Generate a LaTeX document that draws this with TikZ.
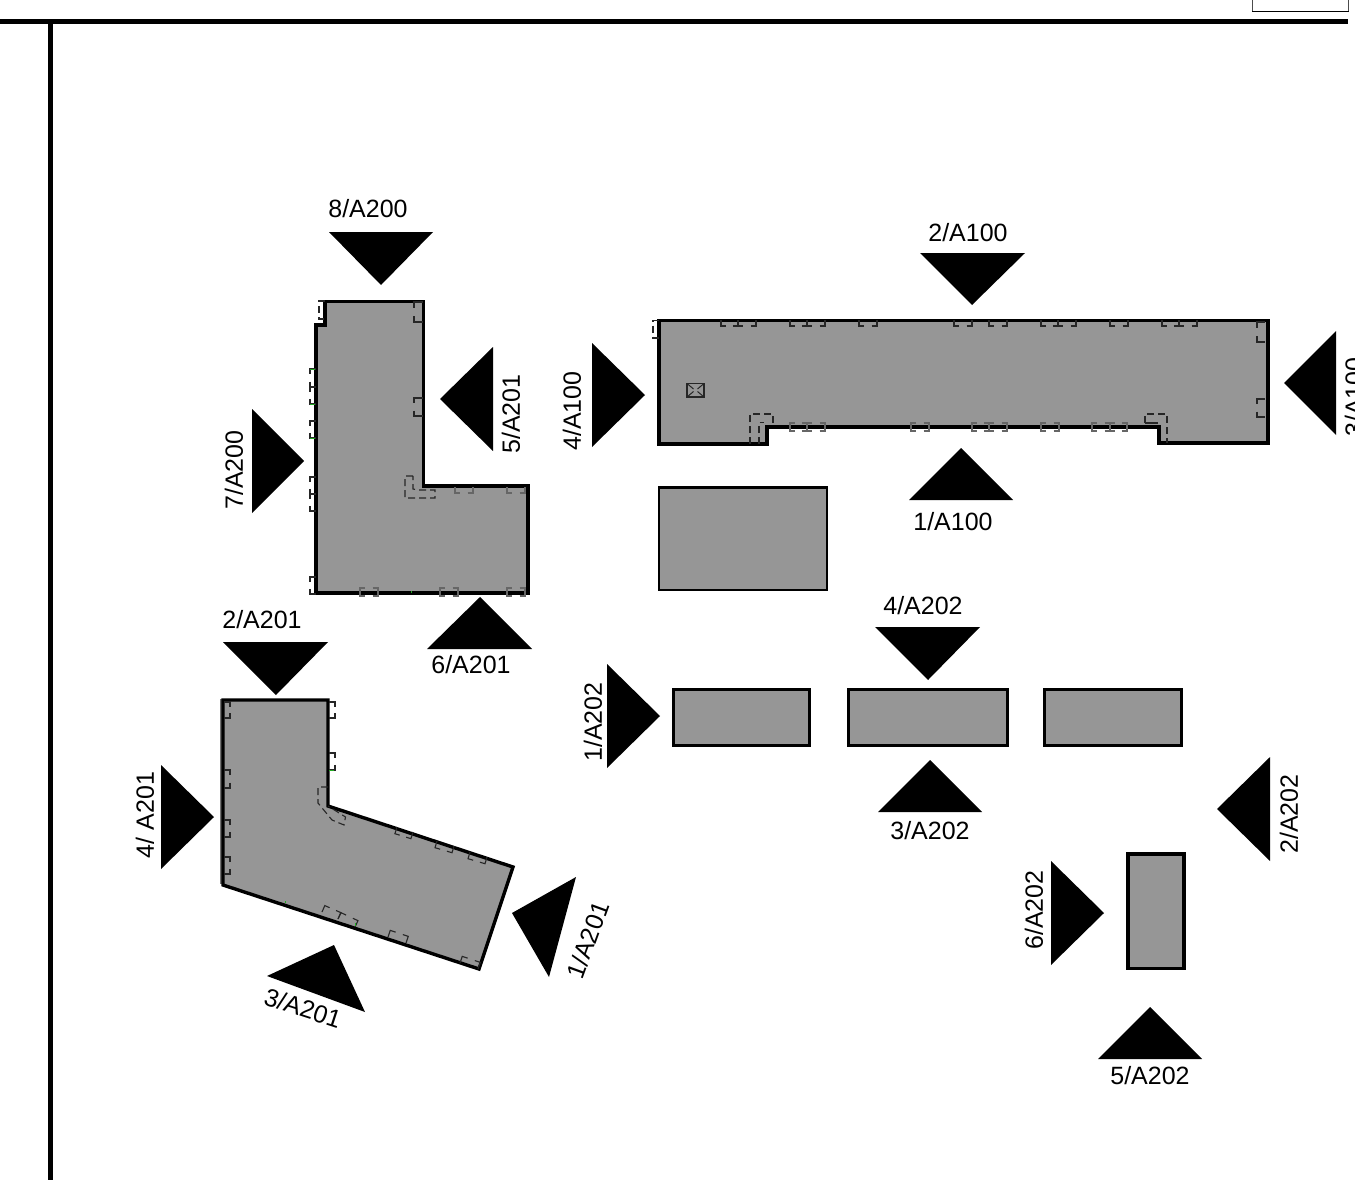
\documentclass[tikz,border=0pt]{standalone}
\usepackage{fontspec}
\setmainfont{Liberation Sans}
\usetikzlibrary{calc}
\definecolor{plan}{HTML}{969696}
\definecolor{tickgreen}{HTML}{22AA22}
\tikzset{
  frameline/.style={line width=5pt,black},
  wall/.style={draw=black,fill=plan,line width=3.4pt,miter limit=4},
  block/.style={draw=black,fill=plan,line width=3pt},
  marker/.style={fill=black,draw=none},
  lbl/.style={font=\fontsize{25}{25}\selectfont,inner sep=0pt,text=black},
  dashmark/.style={draw=black!85,line width=1.1pt,dash pattern=on 7pt off 4pt},
  glaze/.style={draw=black!85,line width=1.1pt},
  glazeg/.style={draw=black!60,line width=1.3pt},
  gtick/.style={draw=tickgreen,line width=1pt}
}
% bracket-shaped window mark: edge points A, B, depth d (positive = left of A->B)
\newcommand{\win}[4][glaze]{%
  \path ($(#2)!#4pt!90:(#3)$) coordinate (wp) ($(#3)!#4pt!-90:(#2)$) coordinate (wq);
  \draw[#1] (#2) -- (wp) -- ($(wp)!0.3!(wq)$) ($(wq)!0.3!(wp)$) -- (wq) -- (#3);
}
\begin{document}
\begin{tikzpicture}[x=1pt,y=-1pt]
\useasboundingbox (0,0) rectangle (1355,1180);
\fill[white] (0,0) rectangle (1355,1180);
% frame
\draw[frameline] (0,21.5) -- (1348,21.5);
\draw[frameline] (50.5,20) -- (50.5,1180);
\draw[black!70,line width=1.6pt] (1252.5,0) -- (1252.5,11) (1348.5,11) -- (1348.5,0);
\draw[black,line width=1.5pt] (1252,11.3) -- (1349,11.3);

% ---- L building, top left
\draw[wall] (325,301.5) -- (423.5,301.5) -- (423.5,486) -- (528,486) -- (528,593) -- (316,593) -- (316,325) -- (325,325) -- cycle;
\draw[dashmark] (325,301) -- (319,301) -- (319,319) -- (325,319);
\win{423,302}{423,322}{-9}
\win{423,398}{423,416}{-9}
\win{316,369}{316,387}{-6}
\win{316,387}{316,404}{-6}
\win{316,421}{316,438}{-6}
\win{316,477}{316,494}{-6}
\win{316,494}{316,511}{-6}
\win{316,577}{316,594}{-6}
\draw[dashmark] (413,476) -- (405,476) -- (405,498) -- (435,498) -- (435,490) -- (418,490) -- (413,489) -- (413,476);
\win[glazeg]{455,487}{473,487}{-6}
\win[glazeg]{507,487}{525,487}{-6}
\foreach \a/\b in {360/378,440/458,507/525}{
  \win[glazeg]{\a,592}{\b,592}{4}
  \win[glazeg]{\a,592}{\b,592}{-4}
}
\draw[gtick] (310,369.5) -- (315,369.5) (310,404.5) -- (315,404.5) (310,438.5) -- (315,438.5) (411,591) -- (411,593);

% ---- long building, top right
\draw[wall] (659,320.5) -- (1268,320.5) -- (1268,443) -- (1159,443) -- (1159,427) -- (767,427) -- (767,444) -- (659,444) -- cycle;
\draw[dashmark] (659,320.5) -- (653,320.5) -- (653,338) -- (659,338);
\foreach \a/\b in {721/738,738/756,790/807,807/825,859/877,954/972,989/1007,1041/1058,1058/1076,1110/1128,1162/1179,1179/1197}
  {\win{\a,320}{\b,320}{-6}}
\foreach \a/\b in {790/807,807/825,911/929,972/989,989/1007,1041/1059,1092/1110,1110/1127}
  {\win[glazeg]{\a,427}{\b,427}{4}
   \win[glazeg]{\a,427}{\b,427}{-4}}
\draw[dashmark] (750,444) -- (750,414) -- (773,414) -- (773,424);
\draw[dashmark] (759,444) -- (759,422.5) -- (764,422.5);
\draw[dashmark] (1145,423) -- (1145,414) -- (1167,414) -- (1167,443);
\draw[glaze] (1145,423) -- (1158,423);
\win{1265,322}{1265,342}{-8}
\win{1265,399}{1265,417}{-8}
\draw[black!85,line width=1.2pt] (687,383.5) rectangle (704,397);
\draw[black!85,line width=1pt] (687,383.5) -- (693.5,389) (704,383.5) -- (697.5,389) (687,397) -- (693.5,391.5) (704,397) -- (697.5,391.5);

% ---- plain blocks
\draw[block,line width=2.4pt] (659,487.5) -- (827,487.5) -- (827,590) -- (659,590) -- cycle;
\draw[black,line width=3.2pt] (767,487.5) -- (828,487.5);
\draw[block] (673,689.5) rectangle (809.5,745.5);
\draw[block] (848,689.5) rectangle (1007.5,745.5);
\draw[block] (1044.5,689.5) rectangle (1181.5,745.5);
\draw[block,line width=3.8pt] (1128,854) rectangle (1184,968.5);

% ---- rotated L building, bottom left
\draw[black!55,line width=1.5pt] (221,699) -- (221,884);
\draw[wall] (223,700) -- (328,700) -- (328,806) -- (513,867) -- (479,969) -- (223,885) -- cycle;
\win{224,702}{224,718}{6}
\win{224,770}{224,788}{6}
\win{224,820}{224,837}{6}
\win{224,857}{224,874}{6}
\win{329,702}{329,718}{6}
\win{329,753}{329,770}{6}
\draw[dashmark] (328,787) -- (318,787) -- (318,803) -- (332,820) -- (344,825) -- (345.5,817) -- (328,806);
\win{397,827}{413,832}{-7}
\win{437,841}{454,846}{-7}
\win{470,852}{487,857}{-7}
\win{322,912}{338,919}{7}
\win{338,919}{355,927}{7}
\win{388,937}{406,943}{7}
\win{460,963}{478,969}{7}
\draw[gtick] (329,770.5) -- (334,770.5) (285,901) -- (285,903) (355,923) -- (355,926);

% ---- section markers
\fill[marker] (329,232) -- (433,232) -- (381,285) -- cycle;
\fill[marker] (920,253) -- (1025,253) -- (972,305) -- cycle;
\fill[marker] (592,343) -- (592,447) -- (645,395) -- cycle;
\fill[marker] (1336,331) -- (1336,435) -- (1284,383) -- cycle;
\fill[marker] (909,500) -- (1013,500) -- (961,448) -- cycle;
\fill[marker] (493,347) -- (493,451) -- (440,399) -- cycle;
\fill[marker] (252,409) -- (252,513) -- (304,461) -- cycle;
\fill[marker] (427,649) -- (532,649) -- (480,597) -- cycle;
\fill[marker] (223,642) -- (328,642) -- (276,695) -- cycle;
\fill[marker] (161,765) -- (161,869) -- (214,817) -- cycle;
\fill[marker] (607,664) -- (607,768) -- (660,716) -- cycle;
\fill[marker] (875,627) -- (980,627) -- (928,680) -- cycle;
\fill[marker] (878,812) -- (982,812) -- (930,760) -- cycle;
\fill[marker] (1270,757) -- (1270,861) -- (1217,809) -- cycle;
\fill[marker] (1051,861) -- (1051,965) -- (1104,913) -- cycle;
\fill[marker] (1098,1059) -- (1202,1059) -- (1150,1007) -- cycle;
\fill[marker] (576,877) -- (549,977) -- (512,913) -- cycle;
\fill[marker] (267,976) -- (334,945) -- (365,1012) -- cycle;

% ---- labels
\node[lbl] (l1) at (368,209) {8/A200};
\node[lbl] (l2) at (968,233) {2/A100};
\node[lbl,rotate=90] (l3) at (572,411) {4/A100};
\node[lbl,rotate=90] (l4) at (1354,397) {3/A100};
\node[lbl] (l5) at (953,522) {1/A100};
\node[lbl,rotate=90] (l6) at (511,414) {5/A201};
\node[lbl,rotate=90] (l7) at (234,470) {7/A200};
\node[lbl] (l8) at (471,665) {6/A201};
\node[lbl] (l9) at (262,620) {2/A201};
\node[lbl,rotate=90] (l10) at (145,815) {4/ A201};
\node[lbl,rotate=90] (l11) at (593,722) {1/A202};
\node[lbl] (l12) at (923,606) {4/A202};
\node[lbl] (l13) at (930,831) {3/A202};
\node[lbl,rotate=90] (l14) at (1289,814) {2/A202};
\node[lbl,rotate=90] (l15) at (1034,910) {6/A202};
\node[lbl] (l16) at (1150,1076) {5/A202};
\node[lbl,rotate=70] (l17) at (588,940) {1/A201};
\node[lbl,rotate=-18] (l18) at (303,1008) {3/A201};
\end{tikzpicture}
\end{document}
